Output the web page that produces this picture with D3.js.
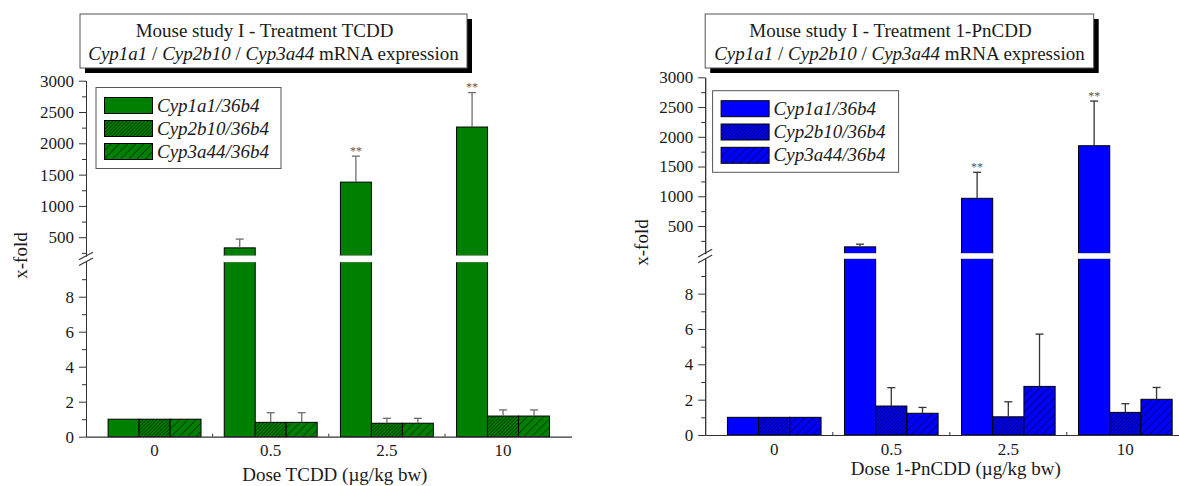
<!DOCTYPE html>
<html>
<head>
<meta charset="utf-8">
<script src="https://cdn.jsdelivr.net/npm/d3@7"></script>
<style>
  body { margin: 0; background: #fff; }
  svg { display: block; }
  svg text { font-family: "Liberation Serif", "Times New Roman", serif !important; }
</style>
</head>
<body>
<svg id="chart" width="1179" height="486"></svg>
<script>
// ---- data -------------------------------------------------------------
const doses = ["0", "0.5", "2.5", "10"];
const genes = ["Cyp1a1/36b4", "Cyp2b10/36b4", "Cyp3a44/36b4"];

// TCDD treatment: mean x-fold and SD
const tcddCyp1a1 = [1, 330, 1380, 2260];
const tcddCyp1a1Err = [0, 140, 415, 550];
const tcddCyp2b10 = [1, 0.82, 0.77, 1.18];
const tcddCyp2b10Err = [0, 0.55, 0.28, 0.35];
const tcddCyp3a44 = [1, 0.82, 0.77, 1.18];
const tcddCyp3a44Err = [0, 0.55, 0.28, 0.35];
const tcddSig = ["", "", "**", "**"];

// 1-PnCDD treatment: mean x-fold and SD
const pncddCyp1a1 = [1, 150, 966, 1850];
const pncddCyp1a1Err = [0, 45, 437, 751];
const pncddCyp2b10 = [1, 1.64, 1.03, 1.28];
const pncddCyp2b10Err = [0, 1.04, 0.85, 0.49];
const pncddCyp3a44 = [1, 1.23, 2.75, 2.02];
const pncddCyp3a44Err = [0, 0.33, 2.96, 0.67];
const pncddSig = ["", "", "**", "**"];

const upperTicks = [500, 1000, 1500, 2000, 2500, 3000];
const upperMinor = [250, 750, 1250, 1750, 2250, 2750];
const lowerTicks = [0, 2, 4, 6, 8];
const lowerMinor = [1, 3, 5, 7, 9];
const lowerMax = 10;

// ---- panel layout -----------------------------------------------------
const panels = [
  {
    key: "tcdd", color: "#008000", errColor: "#6e6e6e",
    title: "Mouse study I - Treatment TCDD",
    xTitle: "Dose TCDD (\u00b5g/kg bw)",
    series: [tcddCyp1a1, tcddCyp2b10, tcddCyp3a44],
    errors: [tcddCyp1a1Err, tcddCyp2b10Err, tcddCyp3a44Err],
    sig: tcddSig,
    axisX: 86, xEnd: 571.6,
    upperTop: 80.7, upperBottom: 256, upperMin: 200,
    lowerTop: 261.7, lowerBottom: 436.7,
    box: { x: 80, y: 14, w: 387, h: 54 },
    legend: { x: 96, y: 87.5, w: 185, h: 81, row: 23 },
    yLabelX: 27, yLabelY: 255.5, xTitleY: 481, tickLabelY: 456.5
  },
  {
    key: "pncdd", color: "#0000ff", errColor: "#333333",
    title: "Mouse study I - Treatment 1-PnCDD",
    xTitle: "Dose 1-PnCDD (\u00b5g/kg bw)",
    series: [pncddCyp1a1, pncddCyp2b10, pncddCyp3a44],
    errors: [pncddCyp1a1Err, pncddCyp2b10Err, pncddCyp3a44Err],
    sig: pncddSig,
    axisX: 705.2, xEnd: 1194.4,
    upperTop: 77.3, upperBottom: 253.7, upperMin: 35,
    lowerTop: 258.3, lowerBottom: 435,
    box: { x: 705.2, y: 14, w: 388.5, h: 54 },
    legend: { x: 712.6, y: 90.7, w: 186, h: 81.6, row: 23.3 },
    yLabelX: 648, yLabelY: 242.5, xTitleY: 474.5, tickLabelY: 455
  }
];

const svg = d3.select("#chart");
const defs = svg.append("defs");
const serif = '"Liberation Serif", "Times New Roman", serif';

// hatch fills: dense for Cyp2b10, sparse for Cyp3a44
function hatch(id, color, spacing) {
  const p = defs.append("pattern")
    .attr("id", id)
    .attr("patternUnits", "userSpaceOnUse")
    .attr("width", spacing).attr("height", spacing)
    .attr("patternTransform", "rotate(45)");
  p.append("rect").attr("width", spacing).attr("height", spacing).attr("fill", color);
  p.append("line").attr("x1", 0).attr("y1", 0).attr("x2", 0).attr("y2", spacing)
    .attr("stroke", "#000").attr("stroke-width", 1);
}

const axisColor = "#333";
const textColor = "#1a1a1a";

panels.forEach(P => {
  hatch(`dense-${P.key}`, P.color, 2.5);
  hatch(`sparse-${P.key}`, P.color, 5.8);
  const fills = [P.color, `url(#dense-${P.key})`, `url(#sparse-${P.key})`];

  const g = svg.append("g");

  const x = d3.scaleBand().domain(doses)
    .range([P.axisX, P.xEnd]).paddingInner(0.2).paddingOuter(0.19);
  const sub = d3.scaleBand().domain(d3.range(genes.length))
    .range([0, x.bandwidth()]);
  const yU = d3.scaleLinear().domain([P.upperMin, 3000]).range([P.upperBottom, P.upperTop]);
  const yL = d3.scaleLinear().domain([0, lowerMax]).range([P.lowerBottom, P.lowerTop]);

  // bars
  const bars = g.append("g");
  P.series.forEach((vals, gi) => {
    vals.forEach((v, di) => {
      const bx = x(doses[di]) + sub(gi);
      const bw = sub.bandwidth();
      const err = P.errors[gi][di];
      let top, errTop;
      if (v > lowerMax) {
        bars.append("rect")
          .attr("x", bx).attr("y", yL(lowerMax))
          .attr("width", bw).attr("height", yL(0) - yL(lowerMax))
          .attr("fill", fills[gi]).attr("stroke", "#000").attr("stroke-width", 1);
        bars.append("rect")
          .attr("x", bx).attr("y", yU(v))
          .attr("width", bw).attr("height", yU(P.upperMin) - yU(v))
          .attr("fill", fills[gi]).attr("stroke", "#000").attr("stroke-width", 1);
        // white gap where the axis is broken
        bars.append("rect")
          .attr("x", bx - 0.6).attr("y", yU(P.upperMin) - 0.5)
          .attr("width", bw + 1.2).attr("height", yL(lowerMax) - yU(P.upperMin) + 1)
          .attr("fill", "#fff");
        top = yU(v); errTop = yU(v + err);
      } else {
        bars.append("rect")
          .attr("x", bx).attr("y", yL(v))
          .attr("width", bw).attr("height", yL(0) - yL(v))
          .attr("fill", fills[gi]).attr("stroke", "#000").attr("stroke-width", 1);
        top = yL(v); errTop = yL(v + err);
      }
      if (err > 0) {
        const cx = bx + bw / 2;
        bars.append("line").attr("x1", cx).attr("x2", cx).attr("y1", top).attr("y2", errTop)
          .attr("stroke", P.errColor).attr("stroke-width", 1.3);
        bars.append("line").attr("x1", cx - 4).attr("x2", cx + 4).attr("y1", errTop).attr("y2", errTop)
          .attr("stroke", P.errColor).attr("stroke-width", 1.3);
      }
      if (gi === 0 && P.sig[di]) {
        bars.append("text")
          .attr("x", bx + bw / 2).attr("y", errTop - 1.5)
          .attr("text-anchor", "middle").attr("font-size", 12).attr("fill", "#555")
          .text(P.sig[di]);
      }
    });
  });

  // y axes (upper and lower segments)
  function styleAxis(sel) {
    sel.attr("font-family", serif).attr("font-size", 17);
    sel.selectAll("path, line").attr("stroke", axisColor).attr("stroke-width", 1);
    sel.selectAll("text").attr("fill", textColor);
  }
  const fmt = d3.format("d");
  g.append("g").attr("transform", `translate(${P.axisX},0)`)
    .call(d3.axisLeft(yU).tickValues(upperTicks).tickFormat(fmt)
      .tickSize(7).tickSizeOuter(0).tickPadding(5))
    .call(styleAxis);
  g.append("g").attr("transform", `translate(${P.axisX},0)`)
    .call(d3.axisLeft(yU).tickValues(upperMinor.filter(t => t >= P.upperMin))
      .tickSize(4).tickSizeOuter(0).tickFormat(""))
    .call(styleAxis);
  g.append("g").attr("transform", `translate(${P.axisX},0)`)
    .call(d3.axisLeft(yL).tickValues(lowerTicks).tickFormat(fmt)
      .tickSize(7).tickSizeOuter(0).tickPadding(5))
    .call(styleAxis);
  g.append("g").attr("transform", `translate(${P.axisX},0)`)
    .call(d3.axisLeft(yL).tickValues(lowerMinor).tickSize(4).tickSizeOuter(0).tickFormat(""))
    .call(styleAxis);

  // break marks on the y axis
  const mid = (yU(P.upperMin) + yL(lowerMax)) / 2;
  [-2.9, 2.9].forEach(d => {
    g.append("line")
      .attr("x1", P.axisX - 7).attr("y1", mid + d + 3.8)
      .attr("x2", P.axisX + 7).attr("y2", mid + d - 3.8)
      .attr("stroke", axisColor).attr("stroke-width", 1.1);
  });

  // x axis
  const xAxis = g.append("g").attr("transform", `translate(0,${yL(0)})`)
    .call(d3.axisBottom(x).tickSize(0).tickPadding(0).tickSizeOuter(0));
  xAxis.attr("font-family", serif).attr("font-size", 17);
  xAxis.select(".domain").attr("stroke", axisColor).attr("stroke-width", 1.2);
  xAxis.selectAll("text").attr("fill", textColor)
    .attr("dy", null).attr("y", P.tickLabelY - yL(0));
  // small separators between dose groups
  doses.slice(1).forEach(d => {
    const sx = x(d) - (x.step() - x.bandwidth()) / 2;
    g.append("line").attr("x1", sx).attr("x2", sx)
      .attr("y1", yL(0)).attr("y2", yL(0) - 3)
      .attr("stroke", axisColor).attr("stroke-width", 1);
  });

  // axis titles
  const xMid = (x(doses[0]) + x(doses[doses.length - 1]) + x.bandwidth()) / 2 + 6;
  g.append("text").attr("x", xMid).attr("y", P.xTitleY)
    .attr("text-anchor", "middle").attr("font-size", 19).attr("fill", textColor)
    .text(P.xTitle);
  g.append("text")
    .attr("transform", `translate(${P.yLabelX},${P.yLabelY}) rotate(-90)`)
    .attr("text-anchor", "middle").attr("font-size", 19).attr("fill", textColor)
    .text("x-fold");

  // title box with drop shadow
  const B = P.box;
  g.append("rect").attr("x", B.x + 5).attr("y", B.y + 5).attr("width", B.w).attr("height", B.h)
    .attr("fill", "#000");
  g.append("rect").attr("x", B.x).attr("y", B.y).attr("width", B.w).attr("height", B.h)
    .attr("fill", "#fff").attr("stroke", "#555").attr("stroke-width", 1);
  g.append("text").attr("x", B.x + B.w / 2 - 9).attr("y", B.y + 22.5)
    .attr("text-anchor", "middle").attr("font-size", 19).attr("fill", textColor)
    .text(P.title);
  const t2 = g.append("text").attr("x", B.x + B.w / 2).attr("y", B.y + 45.5)
    .attr("text-anchor", "middle").attr("font-size", 19).attr("fill", textColor);
  [["Cyp1a1", true], [" / ", false], ["Cyp2b10", true], [" / ", false],
   ["Cyp3a44", true], [" mRNA expression", false]].forEach(([s, it]) => {
    t2.append("tspan").attr("font-style", it ? "italic" : "normal").text(s);
  });

  // legend
  const L = P.legend;
  g.append("rect").attr("x", L.x).attr("y", L.y).attr("width", L.w).attr("height", L.h)
    .attr("fill", "#fff").attr("stroke", "#555").attr("stroke-width", 1);
  genes.forEach((name, gi) => {
    const ry = L.y + 10 + gi * L.row;
    g.append("rect").attr("x", L.x + 8.5).attr("y", ry).attr("width", 48).attr("height", 16)
      .attr("fill", fills[gi]).attr("stroke", "#000").attr("stroke-width", 1);
    g.append("text").attr("x", L.x + 61).attr("y", ry + 14)
      .attr("font-size", 19).attr("font-style", "italic").attr("fill", textColor)
      .text(name);
  });
});
</script>
</body>
</html>
